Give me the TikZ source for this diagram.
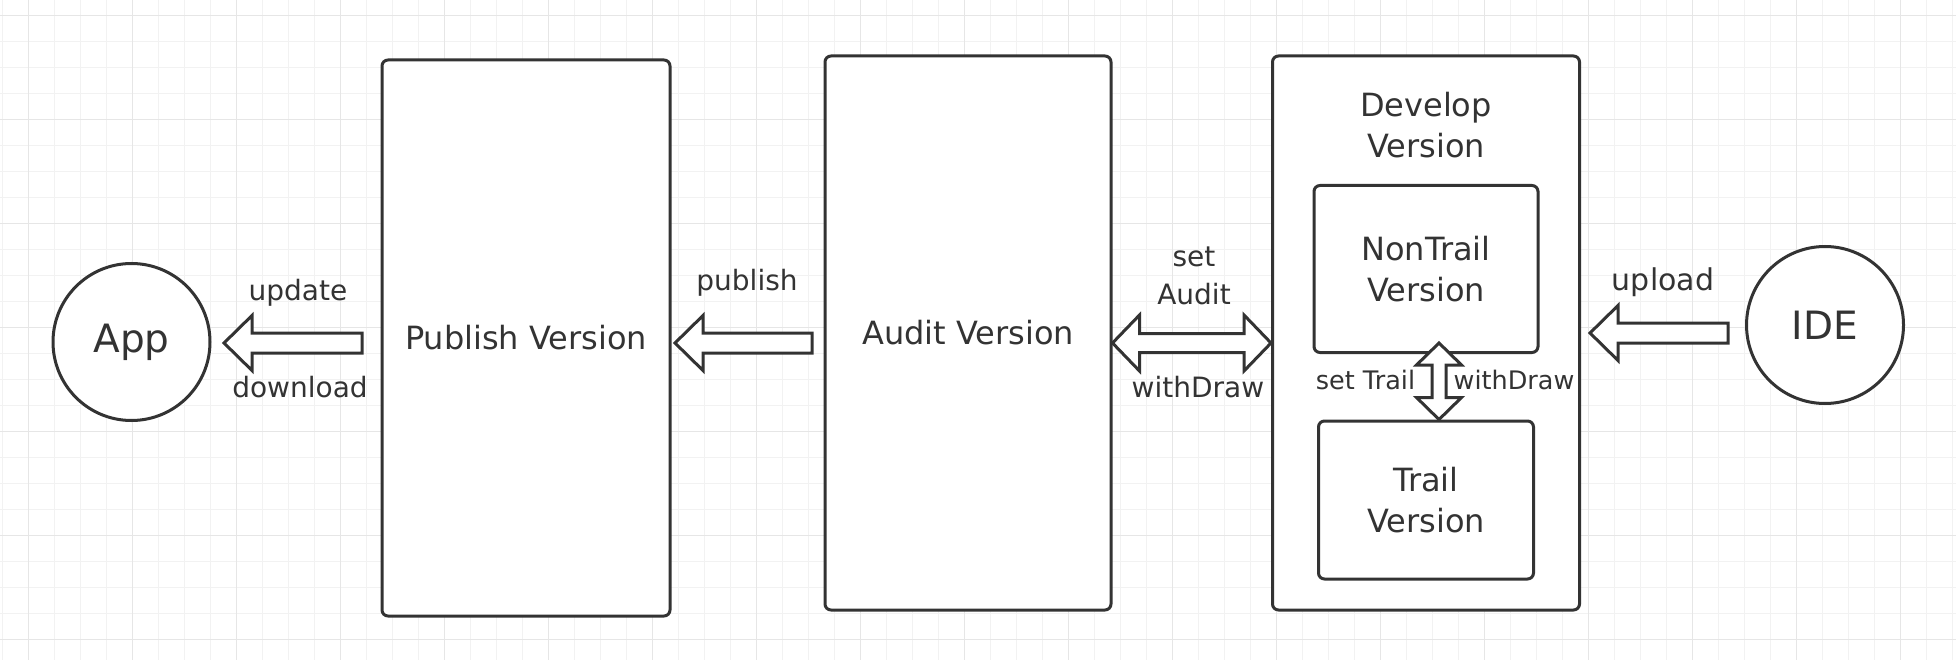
\documentclass[tikz,border=0pt]{standalone}
\usepackage{fontspec}
\setmainfont{DejaVu Sans}
\usetikzlibrary{calc, positioning}

\definecolor{inkgray}{HTML}{333333}
\definecolor{gridminor}{HTML}{F2F2F2}
\definecolor{gridmajor}{HTML}{E6E6E6}

\tikzset{
  roundbox/.style={draw=inkgray, line width=3pt, rounded corners=6pt, fill=white,
                   text=inkgray, align=center},
  endpoint/.style={draw=inkgray, line width=3pt, circle, fill=white, inner sep=0pt,
                   minimum size=157pt, text=inkgray},
  flatarrow/.style={draw=inkgray, line width=3pt, fill=white, line join=miter},
  boxfont/.style={font=\fontsize{32}{41}\selectfont},
  labelfont/.style={font=\fontsize{28}{38}\selectfont, text=inkgray, align=center},
}

% hollow arrow, tail #1, tip #2
\newcommand{\onewayarrow}[2]{%
  \coordinate (hb) at ($(#2)!28pt!(#1)$);
  \draw[flatarrow] ($(#1)!10pt!90:(#2)$) -- ($(hb)!10pt!-90:(#1)$)
       -- ($(hb)!27.5pt!-90:(#1)$) -- (#2) -- ($(hb)!27.5pt!90:(#1)$)
       -- ($(hb)!10pt!90:(#1)$) -- ($(#1)!10pt!-90:(#2)$) -- cycle;
}

% hollow arrow with two heads: ends #1 #2, half shaft #3, half head #4, head length #5
\newcommand{\twowayarrow}[5]{%
  \coordinate (ha) at ($(#1)!#5!(#2)$);
  \coordinate (hb) at ($(#2)!#5!(#1)$);
  \draw[flatarrow] (#1) -- ($(ha)!#4!90:(#2)$) -- ($(ha)!#3!90:(#2)$)
       -- ($(hb)!#3!-90:(#1)$) -- ($(hb)!#4!-90:(#1)$) -- (#2)
       -- ($(hb)!#4!90:(#1)$) -- ($(hb)!#3!90:(#1)$)
       -- ($(ha)!#3!-90:(#2)$) -- ($(ha)!#4!-90:(#2)$) -- cycle;
}

\begin{document}
\begin{tikzpicture}[x=1pt, y=-1pt]
      % Paper
      \useasboundingbox (0,0) rectangle (1956,660);
      \fill[white] (0,0) rectangle (1956,660);
      \begin{scope}
        \clip (0,0) rectangle (1956,660);
        \foreach \k in {0,...,75} \draw[gridminor, line width=1.2pt] ({2.3+26*\k},0) -- ++(0,660);
        \foreach \k in {0,...,26} \draw[gridminor, line width=1.2pt] (0,{-10.3+26*\k}) -- ++(1956,0);
        \foreach \k in {0,...,18} \draw[gridmajor, line width=1.5pt] ({28.3+104*\k},0) -- ++(0,660);
        \foreach \k in {0,...,6}  \draw[gridmajor, line width=1.5pt] (0,{15.7+104*\k}) -- ++(1956,0);
      \end{scope}

      % Version boxes
      \node[roundbox, boxfont, minimum width=288pt, minimum height=556pt] (publish) at (526,338)  {Publish Version};
      \node[roundbox, boxfont, minimum width=286pt, minimum height=554pt] (audit)   at (968,333)  {Audit Version};
      \node[roundbox,          minimum width=307pt, minimum height=554pt] (develop) at (1426,333) {};
      \node[boxfont, text=inkgray, align=center] (devtitle) at ($(develop.north)+(0,70.7)$) {Develop\\Version};
      \node[roundbox, boxfont, minimum width=224pt, minimum height=167pt] (nontrail) at (1426,269) {NonTrail\\Version};
      \node[roundbox, boxfont, minimum width=215pt, minimum height=158pt] (trail)    at (1426,500) {Trail\\Version};

      % App and IDE
      \node[endpoint, font=\fontsize{39}{40}\selectfont] (app) at (131.5,342) {App};
      \node[endpoint, font=\fontsize{39}{40}\selectfont] (ide) at (1825,325)  {IDE};

      % Arrow ends
      \coordinate (row)        at (0,343);
      \coordinate (app-tip)    at ($(app.east)+(12.5,1)$);
      \coordinate (app-tail)   at ($(publish.west |- app-tip)+(-18.5,0)$);
      \coordinate (pub-tip)    at ($(publish.east |- row)+(3.5,0)$);
      \coordinate (pub-tail)   at ($(audit.west |- row)+(-11.5,0)$);
      \coordinate (aud-end)    at (audit.east |- row);
      \coordinate (dev-end)    at (develop.west |- row);
      \coordinate (non-end)    at ($(nontrail.south)+(13,-11)$);
      \coordinate (trail-end)  at (trail.north -| non-end);
      \coordinate (ide-tail)   at ($(ide.west)+(-17,8)$);
      \coordinate (ide-tip)    at ($(develop.east |- ide-tail)+(9,0)$);

      % Arrows
      \onewayarrow{app-tail}{app-tip}
      \onewayarrow{pub-tail}{pub-tip}
      \twowayarrow{aud-end}{dev-end}{9.5pt}{28pt}{27pt}
      \twowayarrow{non-end}{trail-end}{7pt}{22.5pt}{22pt}
      \onewayarrow{ide-tail}{ide-tip}

      % Labels
      \node[labelfont] (update)    at (298,293)  {update};
      \node[labelfont] (download)  at (300,387)  {download};
      \node[labelfont] (publishlb) at (747,283)  {publish};
      \node[labelfont] (setaudit)  at (1194,276) {set\\Audit};
      \node[labelfont] (withdraw)  at (1198,387) {withDraw};
      \node[labelfont, font=\fontsize{25.5}{30}\selectfont] (settrail) at (1365.5,380) {set Trail};
      \node[labelfont, font=\fontsize{25.5}{30}\selectfont] (withdraw2) at (1514,380) {withDraw};
      \node[labelfont, font=\fontsize{30}{38}\selectfont] (upload) at (1663,282) {upload};
\end{tikzpicture}
\end{document}
